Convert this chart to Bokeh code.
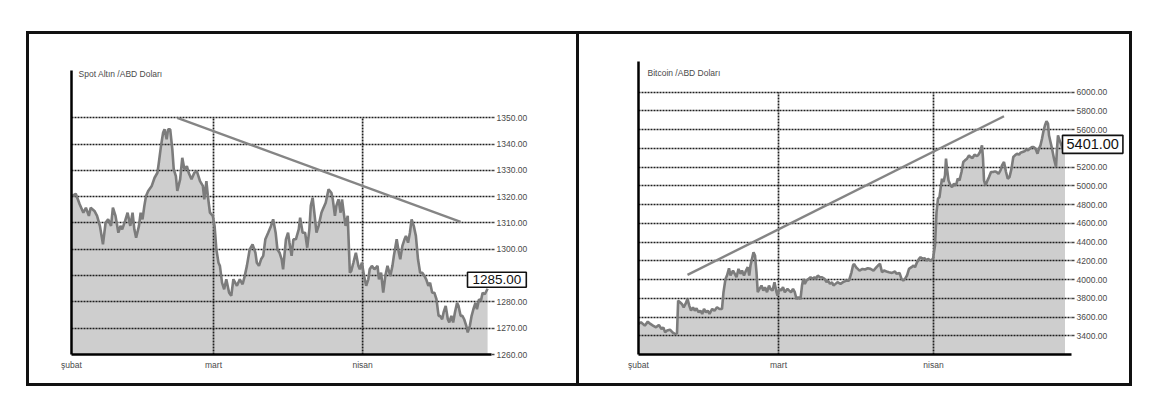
from bokeh.plotting import figure
from bokeh.models import FixedTicker, LinearAxis, Label, Range1d, PrintfTickFormatter, Spacer
from bokeh.layouts import row, column
from bokeh.embed import file_html
from bokeh.resources import INLINE

FONT = "Liberation Sans"

# ---------------- data ----------------
month_labels = ["şubat", "mart", "nisan"]
gold_month_pos = [0, 20, 41]      # trading-day index
btc_month_pos = [0, 28, 59]       # calendar-day index

gold_ticks = [1260, 1270, 1280, 1290, 1300, 1310, 1320, 1330, 1340, 1350]
btc_ticks = [3400, 3600, 3800, 4000, 4200, 4400, 4600, 4800, 5000, 5200, 5400, 5600, 5800, 6000]

gold_day = [0.1, 0.6, 1.15, 1.67, 2.03, 2.45, 2.7, 3.23, 3.6, 4.0, 4.43, 4.8, 5.16, 5.57, 5.83, 6.2, 6.6, 6.9,
            7.14, 7.55, 7.9, 8.28, 8.6, 8.85, 9.1, 9.5, 9.74, 10.0, 10.26, 10.5, 10.8, 11.3, 11.7, 12.1, 12.3,
            12.6, 12.9, 13.1, 13.4, 13.6, 13.9, 14.2, 14.4, 14.7, 14.9, 15.3, 15.6, 15.9, 16.25, 16.5, 16.9,
            17.3, 17.65, 18.1, 18.5, 18.7, 19.0, 19.2, 19.5, 19.9, 20.15, 20.4, 20.7, 20.9, 21.2, 21.5, 21.8,
            22.2, 22.5, 22.8, 23.3, 23.7, 24.1, 24.4, 24.7, 25.1, 25.5, 25.9, 26.1, 26.4, 26.7, 27.0, 27.3,
            27.7, 28.1, 28.4, 28.75, 29.0, 29.3, 29.6, 29.8, 30.2, 30.5, 30.7, 31.0, 31.25, 31.6, 32.0, 32.2,
            32.55, 32.9, 33.2, 33.5, 33.7, 33.96, 34.2, 34.5, 34.8, 35.2, 35.4, 35.8, 36.2, 36.6, 36.8, 37.1,
            37.3, 37.6, 37.9, 38.1, 38.4, 38.6, 38.9, 39.2, 39.4, 39.7, 40.05, 40.4, 40.6, 40.9, 41.2, 41.5,
            41.8, 42.0, 42.3, 42.66, 43.1, 43.3, 43.6, 43.9, 44.2, 44.5, 44.9, 45.2, 45.4, 45.8, 46.1, 46.3,
            46.6, 46.9, 47.1, 47.4, 47.66, 47.9, 48.2, 48.5, 48.8, 49.1, 49.4, 49.7, 49.95, 50.26, 50.5, 50.8,
            51.1, 51.4, 51.7, 51.9, 52.2, 52.4, 52.7, 53.0, 53.2, 53.5, 53.75, 54.0, 54.3, 54.5, 54.8, 55.05,
            55.3, 55.6, 55.8, 56.1, 56.35, 56.6, 56.9, 57.1, 57.4, 57.66, 57.9, 58.2, 58.6]
gold_price = [1320.3, 1321.1, 1317.1, 1313.9, 1315.8, 1312.7, 1315.8, 1314.6, 1312.7, 1308.9, 1301.9, 1310.1,
              1311.4, 1308.9, 1315.8, 1312.7, 1306.3, 1308.9, 1307.6, 1310.8, 1313.9, 1308.9, 1313.9, 1307.6,
              1304.4, 1308.9, 1313.9, 1311.4, 1316.5, 1320.3, 1322.2, 1324.1, 1327.2, 1329.1, 1332.9, 1339.2,
              1344.3, 1345.6, 1341.8, 1345.6, 1345.6, 1338.0, 1330.4, 1327.8, 1322.2, 1326.6, 1334.8, 1330.4,
              1331.6, 1329.1, 1326.6, 1329.1, 1329.7, 1325.9, 1324.1, 1319.0, 1325.9, 1320.3, 1313.9, 1312.7,
              1308.9, 1300.0, 1294.9, 1293.7, 1287.3, 1284.8, 1288.6, 1283.5, 1282.3, 1288.6, 1286.1, 1288.6,
              1286.7, 1289.9, 1293.7, 1300.0, 1301.9, 1298.7, 1294.9, 1293.7, 1296.2, 1297.5, 1303.8, 1306.3,
              1308.9, 1311.4, 1306.3, 1300.0, 1298.7, 1296.2, 1292.4, 1303.8, 1306.3, 1302.5, 1297.5, 1303.8,
              1303.8, 1307.6, 1312.0, 1306.3, 1306.3, 1300.6, 1307.6, 1316.5, 1319.6, 1313.9, 1306.3, 1308.9,
              1313.9, 1315.2, 1317.7, 1322.8, 1321.5, 1319.0, 1312.7, 1316.5, 1319.0, 1313.9, 1319.0, 1312.7,
              1308.9, 1312.7, 1291.1, 1291.8, 1294.9, 1298.7, 1293.7, 1292.4, 1294.9, 1289.9, 1286.1, 1288.6,
              1292.4, 1293.7, 1292.4, 1293.7, 1288.6, 1291.1, 1283.5, 1289.9, 1293.7, 1289.9, 1293.7, 1297.5,
              1303.8, 1298.7, 1296.2, 1301.3, 1303.8, 1305.1, 1302.5, 1306.3, 1311.4, 1308.9, 1305.1, 1296.2,
              1291.1, 1291.1, 1289.9, 1288.6, 1286.1, 1287.3, 1283.5, 1283.5, 1281.0, 1274.7, 1274.7, 1273.4,
              1276.0, 1278.5, 1273.4, 1272.2, 1274.7, 1272.2, 1276.0, 1279.7, 1278.5, 1274.7, 1274.7, 1273.4,
              1270.9, 1268.4, 1270.9, 1274.7, 1277.2, 1279.7, 1277.2, 1281.0, 1280.4, 1283.5, 1282.9, 1285.0]

btc_day = [0, 0.5, 1.26, 1.85, 2.37, 2.9, 3.5, 4.07, 4.6, 4.96, 5.33, 5.7, 6.3, 6.8, 7.33, 7.7, 7.93, 8.3, 8.67,
           9.04, 9.4, 9.8, 10.15, 10.5, 10.9, 11.26, 11.6, 12.0, 12.37, 12.74, 13.1, 13.5, 13.85, 14.2, 14.74,
           15.2, 15.7, 16.2, 16.7, 17.0, 17.4, 17.7, 18.1, 18.4, 18.9, 19.26, 19.6, 20.0, 20.4, 20.7, 21.1, 21.5,
           21.85, 22.15, 22.4, 22.7, 23.0, 23.3, 23.6, 23.85, 24.2, 24.6, 24.96, 25.3, 25.7, 26.1, 26.4, 26.8,
           27.2, 27.6, 27.8, 28.15, 28.5, 28.9, 29.26, 29.8, 30.15, 30.5, 30.9, 31.26, 31.6, 32.0, 32.4, 32.7,
           32.96, 33.26, 33.6, 34.0, 34.4, 34.7, 35.2, 35.5, 35.85, 36.3, 36.7, 37.2, 37.6, 37.9, 38.3, 38.7,
           39.0, 39.4, 39.8, 40.4, 40.9, 41.6, 42.1, 42.6, 42.9, 43.1, 43.5, 43.85, 44.2, 44.8, 45.3, 45.85, 46.4,
           47.0, 47.6, 47.9, 48.3, 48.7, 49.1, 49.6, 50.1, 50.7, 51.3, 51.6, 52.2, 52.6, 52.96, 53.3, 53.7, 54.1,
           54.6, 55.0, 55.3, 55.7, 56.1, 56.4, 56.8, 57.2, 57.6, 57.9, 58.4, 58.9, 59.3, 59.6, 59.9, 60.2, 60.5,
           60.7, 61.0, 61.3, 61.5, 61.7, 62.0, 62.4, 62.7, 63.1, 63.5, 63.85, 64.2, 64.6, 64.96, 65.3, 65.7, 66.1,
           66.4, 66.8, 67.2, 67.6, 67.9, 68.3, 68.7, 68.9, 69.1, 69.4, 69.8, 70.1, 70.5, 70.9, 71.3, 71.6, 72.0,
           72.4, 72.7, 73.1, 73.5, 73.85, 74.2, 74.6, 74.96, 75.3, 75.7, 76.1, 76.4, 76.8, 77.2, 77.6, 77.9, 78.3,
           78.7, 79.0, 79.4, 79.8, 80.1, 80.4, 80.7, 80.96, 81.3, 81.6, 81.9, 82.1, 82.4, 82.7, 83.1, 83.5, 83.7,
           83.9, 84.2, 84.6, 85.0, 85.3]
btc_price = [3526, 3544, 3508, 3551, 3526, 3508, 3490, 3515, 3472, 3490, 3437, 3455, 3465, 3437, 3419, 3426, 3775,
             3758, 3740, 3704, 3740, 3793, 3722, 3668, 3704, 3668, 3693, 3651, 3668, 3633, 3686, 3651, 3668, 3633,
             3686, 3668, 3704, 3686, 3686, 3865, 4007, 4043, 4121, 4043, 4096, 4061, 4025, 4114, 4061, 4096, 4043,
             4096, 4132, 4043, 4150, 4221, 4292, 4257, 4078, 3865, 3900, 3936, 3882, 3918, 3865, 3936, 3900, 3882,
             3972, 3865, 3829, 3900, 3882, 3918, 3865, 3900, 3882, 3865, 3900, 3865, 3793, 3811, 3793, 3936, 4007,
             3954, 3989, 4007, 4025, 4007, 4025, 4007, 4043, 4025, 4025, 4007, 3972, 3989, 3954, 3972, 3936, 3954,
             3972, 3954, 3972, 3989, 3989, 4078, 4150, 4168, 4132, 4114, 4096, 4114, 4107, 4121, 4114, 4096, 4132,
             4150, 4168, 4078, 4096, 4086, 4078, 4071, 4086, 4061, 4071, 4007, 3989, 4007, 4043, 4114, 4132, 4150,
             4132, 4185, 4221, 4239, 4221, 4228, 4203, 4221, 4203, 4221, 4364, 4720, 4863, 4881, 5005, 5077, 5041,
             5112, 5291, 5184, 5059, 5005, 4988, 5023, 5005, 5077, 5059, 5148, 5255, 5273, 5291, 5326, 5308, 5298,
             5333, 5319, 5326, 5362, 5433, 5291, 5059, 5005, 5059, 5094, 5148, 5148, 5155, 5148, 5130, 5166, 5219,
             5255, 5148, 5077, 5094, 5184, 5308, 5326, 5344, 5333, 5355, 5362, 5369, 5390, 5380, 5398, 5415, 5415,
             5398, 5344, 5398, 5433, 5504, 5576, 5647, 5690, 5665, 5540, 5469, 5398, 5291, 5201, 5398, 5540, 5487,
             5433, 5380, 5401]

gold_trend_x = [14.9, 54.8]
gold_trend_y = [1350, 1310.4]
btc_trend_x = [9.8, 73.1]
btc_trend_y = [4050, 5743]

gold_title = "Spot Altın /ABD Doları"
btc_title = "Bitcoin /ABD Doları"

PANEL_W, PANEL_H = 553, 363
TOP_GAP = 8      # box frame starts this far below the figure top
BAND = "linear-gradient(#111111, #111111)"


def frame_styles(sides):
    imgs, pos, size = [], [], []
    if "top" in sides:
        imgs.append(BAND); pos.append(f"0 {TOP_GAP}px"); size.append("100% 3px")
    if "bottom" in sides:
        imgs.append(BAND); pos.append("0 100%"); size.append("100% 3px")
    if "left" in sides:
        imgs.append(BAND); pos.append(f"0 {TOP_GAP}px"); size.append(f"3px calc(100% - {TOP_GAP}px)")
    if "right" in sides:
        imgs.append(BAND); pos.append(f"100% {TOP_GAP}px"); size.append(f"3px calc(100% - {TOP_GAP}px)")
    return {"background-image": ", ".join(imgs),
            "background-position": ", ".join(pos),
            "background-size": ", ".join(size),
            "background-repeat": "no-repeat"}


def make_panel(title, xs, ys, month_pos, yticks, ybase, ytop, axis_top, xmax, trend_x, trend_y,
               borders, box_sx, box_offset, box_font, box_pad, hidden_tick, title_xy, styles):
    left, right, top, bottom = borders
    p = figure(width=PANEL_W, height=PANEL_H, output_backend="svg", toolbar_location=None,
               x_range=Range1d(0, xmax), y_range=Range1d(ybase, ytop),
               y_axis_location="right",
               min_border_left=left, min_border_right=right,
               min_border_top=top + TOP_GAP, min_border_bottom=bottom,
               background_fill_color="white", border_fill_color=None,
               outline_line_color=None)
    p.styles = styles

    # area + line
    p.varea(x=xs, y1=ybase, y2=ys, fill_color="#cecece", level="image")
    p.line(xs, ys, line_color="#7c7c7c", line_width=2.6)
    p.line(trend_x, trend_y, line_color="#858585", line_width=2.4)

    # grids
    p.xgrid.visible = False
    p.ygrid.ticker = FixedTicker(ticks=yticks)
    p.ygrid.grid_line_color = "#1e1e1e"
    p.ygrid.grid_line_dash = "2 1"
    p.ygrid.grid_line_width = 1.7
    p.segment(x0=month_pos[1:], x1=month_pos[1:], y0=ybase, y1=max(yticks),
              line_color="#1e1e1e", line_dash="2 1", line_width=1.7, level="underlay")

    # right value axis
    ya = p.yaxis[0]
    ya.ticker = FixedTicker(ticks=yticks)
    ya.formatter = PrintfTickFormatter(format="%.2f")
    ya.major_label_overrides = {hidden_tick: ""}
    ya.axis_line_color = None
    ya.major_tick_out = 3
    ya.major_tick_in = 0
    ya.major_tick_line_color = "#444444"
    ya.major_tick_line_width = 1.5
    ya.minor_tick_line_color = None
    ya.major_label_standoff = 2
    ya.major_label_text_font_size = "8.5px"
    ya.major_label_text_color = "#4a4a4a"
    ya.major_label_text_font = FONT

    # left plain axis line
    la = LinearAxis(ticker=FixedTicker(ticks=[]), axis_line_width=2.5, axis_line_color="black",
                    major_tick_line_color=None, minor_tick_line_color=None,
                    major_label_text_font_size="0px", bounds=(ybase, axis_top))
    p.add_layout(la, "left")

    # bottom month axis
    xa = p.xaxis[0]
    xa.ticker = FixedTicker(ticks=month_pos)
    xa.major_label_overrides = {m: lab for m, lab in zip(month_pos, month_labels)}
    xa.axis_line_width = 2.5
    xa.axis_line_color = "black"
    xa.major_tick_line_color = None
    xa.major_tick_out = 0
    xa.minor_tick_line_color = None
    xa.major_label_standoff = 5
    xa.major_label_text_font_size = "8.5px"
    xa.major_label_text_color = "#4a4a4a"
    xa.major_label_text_font = FONT

    # chart title inside
    p.add_layout(Label(x=title_xy[0], y=title_xy[1], text=title, text_font=FONT,
                       text_font_size="8.5px", text_color="#4a4a4a", text_baseline="middle"))

    # last price box: placed in a side panel so that it is not clipped to the frame
    p.add_layout(Label(x=box_sx, x_units="screen", y=ys[-1], y_offset=box_offset,
                       text=f"{ys[-1]:.2f}",
                       text_font=FONT, text_font_size=box_font, text_color="#111111",
                       text_baseline="middle", text_align="left",
                       background_fill_color="white", border_line_color="#111111",
                       border_line_width=1.6, padding=box_pad), "above")
    return p


p1 = make_panel(gold_title, gold_day, gold_price, gold_month_pos, gold_ticks, 1260, 1371.4, 1368, 59.15,
                gold_trend_x, gold_trend_y, (45, 88, 30, 32), 396, 9, "13.5px", (5, 3), 1290,
                (1.0, 1366.8), frame_styles(["top", "bottom", "left", "right"]))
p2 = make_panel(btc_title, btc_day, btc_price, btc_month_pos, btc_ticks, 3200, 6328, 6328, 86.6,
                btc_trend_x, btc_trend_y, (59, 61, 30, 32), 424, 4, "14.5px", (4, 4), 5400,
                (1.8, 6200), frame_styles(["top", "bottom", "right"]))

layout = column(Spacer(width=10, height=31 - TOP_GAP),
                row(Spacer(width=26, height=PANEL_H), p1, p2))

open("out.html", "w").write(file_html(layout, INLINE))
